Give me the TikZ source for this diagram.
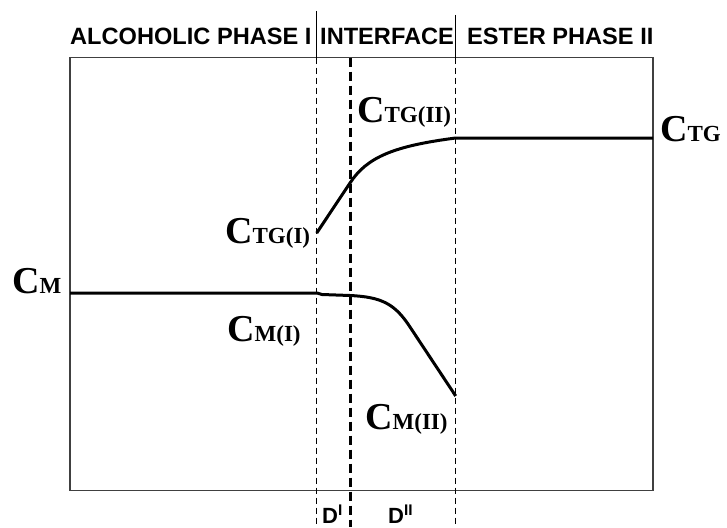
\documentclass[tikz,border=0pt]{standalone}
\usepackage{fontspec}
\setmainfont{Liberation Serif}
\newfontfamily\hdfont{Liberation Sans}
\newcommand{\Clab}[1]{{\fontsize{38}{40}\selectfont C}{\fontsize{23}{24}\selectfont #1}}
\begin{document}
\begin{tikzpicture}[x=1pt,y=-1pt,
  titletext/.style={font=\hdfont\bfseries\fontsize{23.6}{24}\selectfont, inner sep=0pt, anchor=base west},
  dtext/.style={font=\hdfont\bfseries\fontsize{22}{24}\selectfont, inner sep=0pt, anchor=base west},
  clab/.style={inner sep=0pt, anchor=base west, font=\bfseries},
  framebox/.style={draw=black!75, line width=1.5pt},
  thindash/.style={line width=0.9pt, dash pattern=on 6pt off 4pt},
  thinsolid/.style={line width=0.9pt},
  thickdash/.style={line width=3pt, dash pattern=on 9pt off 5pt},
  profile/.style={line width=3pt, line join=round}]
\useasboundingbox (0,0) rectangle (727,527);
% frame
\coordinate (tl) at (70,57.5);
\coordinate (br) at (653,490.5);
\draw[framebox] (tl) rectangle (br);
% interface lines
\coordinate (iLtop) at (316.7,11);
\coordinate (iLbox) at (316.7,57.5);
\coordinate (iLbot) at (316.7,527);
\coordinate (iRtop) at (455.7,15);
\coordinate (iRbox) at (455.7,57.5);
\coordinate (iRbot) at (455.7,527);
\coordinate (iMtop) at (350,57.5);
\coordinate (iMbot) at (350,527);
\draw[thinsolid] (iLtop) -- (iLbox);
\draw[thinsolid] (iRtop) -- (iRbox);
\draw[thindash] (iLbox) -- (iLbot);
\draw[thindash] (iRbox) -- (iRbot);
\draw[thickdash] (iMtop) -- (iMbot);
% titles
\node[titletext] (t1) at (70,45) {ALCOHOLIC PHASE I};
\node[titletext] (t2) at (320,45) {INTERFACE};
\node[titletext] (t3) at (467,45) {ESTER PHASE II};
% TG profile
\coordinate (tg1) at (316.7,233);
\coordinate (tg2) at (350,183);
\coordinate (tg3) at (455.7,138);
\coordinate (tg4) at (653,138);
\draw[profile] (tg1) -- (tg2) .. controls (367,157) and (394,146) .. (tg3) -- (tg4);
% M profile
\coordinate (m1) at (70,293);
\coordinate (m2) at (317,293);
\coordinate (m3) at (322,294.5);
\coordinate (m4) at (350,295.5);
\coordinate (m5) at (410,327);
\coordinate (m6) at (455.7,396);
\draw[profile] (m1) -- (m2) -- (m3) -- (m4) .. controls (382,297) and (395,304) .. (m5) -- (m6);
% labels
\node[clab] (cm) at (12,293) {\Clab{M}};
\node[clab] (cmI) at (227,341) {\Clab{M(I)}};
\node[clab] (ctgI) at (225,243) {\Clab{TG(I)}};
\node[clab] (ctgII) at (357,122) {\Clab{TG(II)}};
\node[clab] (cmII) at (365,429) {\Clab{M(II)}};
\node[clab] (ctg) at (660,141) {\Clab{TG}};
\node[dtext] (d1) at (322,523) {D\textsuperscript{I}};
\node[dtext] (d2) at (388,523) {D\textsuperscript{II}};
\end{tikzpicture}
\end{document}
